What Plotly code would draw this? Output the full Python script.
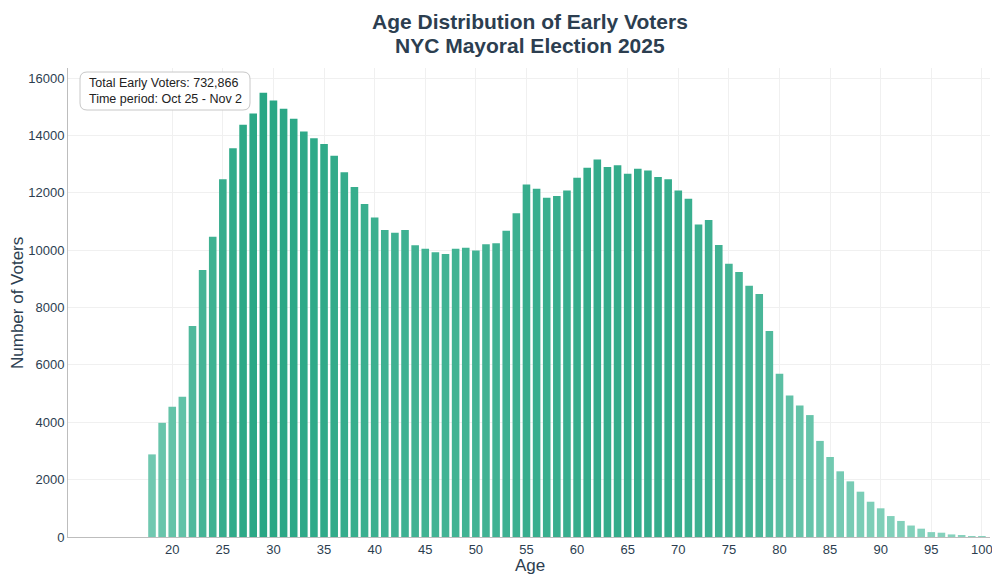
import plotly.graph_objects as go

ages = list(range(18, 101))
voters = [
    2880, 3980, 4540, 4890, 7360,
    9310, 10470, 12470, 13550, 14370, 14760, 15490,
    15220, 14930, 14580, 14140, 13900, 13700, 13290, 12720, 12200,
    11610, 11140, 10700, 10610, 10700, 10170, 10050, 9930, 9870,
    10050, 10080, 9990, 10210, 10240, 10680, 11290, 12290, 12140,
    11830, 11890, 12080, 12520, 12870, 13160, 12900, 12960, 12660,
    12840, 12780, 12550, 12470, 12080, 11790, 10890, 11050, 10180,
    9530, 9240, 8760, 8470, 7180, 5690, 4930, 4580, 4250,
    3350, 2790, 2290, 1940, 1580, 1230, 1000, 730, 560, 400, 290, 170, 150, 90, 60, 30, 20,
]
x_ticks = list(range(20, 101, 5))
y_ticks = list(range(0, 16001, 2000))
title_lines = ["Age Distribution of Early Voters", "NYC Mayoral Election 2025"]
info_lines = ["Total Early Voters: 732,866", "Time period: Oct 25 - Nov 2"]
x_title = "Age"
y_title = "Number of Voters"

dark = "#2c3e50"
font_family = "Liberation Sans, Arial, sans-serif"

# page body adds an 8px offset; figure pixel coords = screen - 8
OFF = 8
W, H = 1000 - OFF, 581 - OFF
ML, MR, MT, MB = 68 - OFF, W - (990 - OFF), 68 - OFF, H - (537 - OFF)
PW, PH = W - ML - MR, H - MT - MB


def px_x(p):
    # p in screen pixels
    return (p - OFF - ML) / PW


def px_y(p):
    return (H - MB - (p - OFF)) / PH


fig = go.Figure()
fig.add_trace(go.Bar(
    x=ages, y=voters, width=0.75,
    marker=dict(
        color=voters,
        colorscale=[[0, "#86d2bd"], [0.5, "#4cb89a"], [1, "#28a684"]],
        cmin=0, cmax=max(voters),
        line=dict(width=0),
    ),
    showlegend=False,
))

fig.update_layout(
    width=W, height=H,
    paper_bgcolor="white", plot_bgcolor="white",
    margin=dict(l=ML, r=MR, t=MT, b=MB),
    font=dict(family=font_family, color=dark, size=13),
    xaxis=dict(
        range=[9.7, 100.8],
        tickvals=x_ticks,
        showgrid=True, gridcolor="#f0f0f0", gridwidth=1,
        showline=True, linecolor="#bdbdbd", linewidth=1,
        ticks="", zeroline=False, automargin=False,
        tickfont=dict(size=13, color=dark),
    ),
    yaxis=dict(
        range=[0, 16350],
        tickvals=y_ticks,
        tickformat="d",
        showgrid=True, gridcolor="#f0f0f0", gridwidth=1,
        showline=True, linecolor="#bdbdbd", linewidth=1,
        ticks="", zeroline=False, automargin=False,
        tickfont=dict(size=13, color=dark),
    ),
)

# two-line bold title
for line, cy in zip(title_lines, [21, 46]):
    fig.add_annotation(
        text="<b>" + line + "</b>", xref="paper", yref="paper",
        x=px_x(530), y=px_y(cy), xanchor="center", yanchor="middle",
        showarrow=False, font=dict(size=21, color=dark, family=font_family),
    )

# axis titles
fig.add_annotation(
    text=x_title, xref="paper", yref="paper", x=px_x(530), y=px_y(565),
    xanchor="center", yanchor="middle", showarrow=False,
    font=dict(size=17, color=dark, family=font_family),
)
fig.add_annotation(
    text=y_title, xref="paper", yref="paper", x=px_x(17), y=px_y(303),
    xanchor="center", yanchor="middle", showarrow=False, textangle=-90,
    font=dict(size=17, color=dark, family=font_family),
)

# rounded info box
bx0, bx1, by0, by1, r = 80, 250, 72, 110, 7
path = (
    f"M {px_x(bx0 + r)},{px_y(by0)} L {px_x(bx1 - r)},{px_y(by0)} "
    f"Q {px_x(bx1)},{px_y(by0)} {px_x(bx1)},{px_y(by0 + r)} "
    f"L {px_x(bx1)},{px_y(by1 - r)} "
    f"Q {px_x(bx1)},{px_y(by1)} {px_x(bx1 - r)},{px_y(by1)} "
    f"L {px_x(bx0 + r)},{px_y(by1)} "
    f"Q {px_x(bx0)},{px_y(by1)} {px_x(bx0)},{px_y(by1 - r)} "
    f"L {px_x(bx0)},{px_y(by0 + r)} "
    f"Q {px_x(bx0)},{px_y(by0)} {px_x(bx0 + r)},{px_y(by0)} Z"
)
fig.add_shape(type="path", path=path, xref="paper", yref="paper",
              fillcolor="white", line=dict(color="#c8c8c8", width=1), layer="above")

fig.add_annotation(
    text="<br>".join(info_lines),
    xref="paper", yref="paper", x=px_x(bx0 + 7), y=px_y((by0 + by1) / 2),
    xanchor="left", yanchor="middle", align="left",
    showarrow=False,
    font=dict(size=12.5, color="#222222", family=font_family),
)

fig.write_html("out.html")
